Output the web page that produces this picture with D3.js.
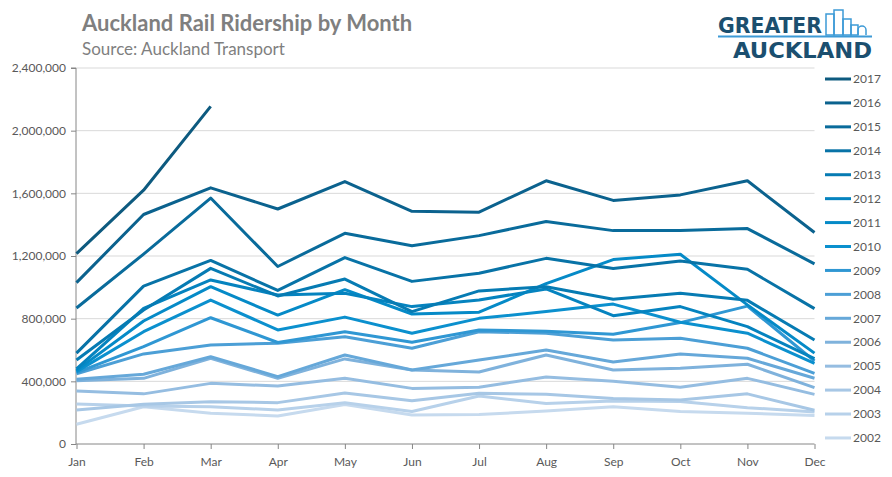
<!DOCTYPE html>
<html>
<head>
<meta charset="utf-8">
<script src="https://cdn.jsdelivr.net/npm/d3@7"></script>
<style>
  body { margin: 0; background: #fff; }
  svg { display: block; }
</style>
</head>
<body>
<div id="chart"></div>
<script>
// chart data
const months = ["Jan", "Feb", "Mar", "Apr", "May", "Jun", "Jul", "Aug", "Sep", "Oct", "Nov", "Dec"];
const years = [2017, 2016, 2015, 2014, 2013, 2012, 2011, 2010, 2009, 2008, 2007, 2006, 2005, 2004, 2003, 2002];
const yTicks = [0, 400000, 800000, 1200000, 1600000, 2000000, 2400000];

const r2017 = [1215000, 1620000, 2155000];
const r2016 = [1030000, 1465000, 1635000, 1500000, 1675000, 1485000, 1480000, 1680000, 1555000, 1590000, 1680000, 1350000];
const r2015 = [868000, 1212000, 1570000, 1133000, 1345000, 1265000, 1330000, 1420000, 1362000, 1362000, 1375000, 1150000];
const r2014 = [580000, 1008000, 1172000, 980000, 1190000, 1038000, 1090000, 1185000, 1120000, 1168000, 1115000, 864000];
const r2013 = [536000, 855000, 1121000, 945000, 1053000, 845000, 977000, 1004000, 924000, 962000, 917000, 664000];
const r2012 = [480000, 866000, 1047000, 951000, 962000, 877000, 919000, 990000, 819000, 877000, 749000, 545000];
const r2011 = [470000, 785000, 1004000, 823000, 985000, 830000, 841000, 1024000, 1177000, 1211000, 888000, 580000];
const r2010 = [462000, 717000, 919000, 728000, 810000, 707000, 802000, 845000, 893000, 777000, 707000, 515000];
const r2009 = [455000, 621000, 806000, 648000, 717000, 650000, 728000, 720000, 700000, 775000, 880000, 530000];
const r2008 = [448000, 575000, 632000, 643000, 685000, 611000, 717000, 707000, 664000, 675000, 611000, 451000];
const r2007 = [413000, 445000, 557000, 430000, 568000, 472000, 536000, 600000, 523000, 574000, 547000, 420000];
const r2006 = [404000, 419000, 547000, 419000, 543000, 472000, 460000, 568000, 472000, 483000, 509000, 360000];
const r2005 = [338000, 320000, 387000, 370000, 419000, 355000, 362000, 428000, 400000, 362000, 419000, 317000];
const r2004 = [217000, 253000, 270000, 264000, 326000, 276000, 324000, 318000, 290000, 281000, 320000, 215000];
const r2003 = [255000, 243000, 238000, 217000, 264000, 208000, 306000, 258000, 275000, 272000, 232000, 205000];
const r2002 = [126000, 238000, 196000, 179000, 252000, 185000, 188000, 210000, 238000, 208000, 196000, 182000];

const rides = [r2017, r2016, r2015, r2014, r2013, r2012, r2011, r2010, r2009, r2008, r2007, r2006, r2005, r2004, r2003, r2002];

// one colour per year, dark (new) to light (old)
const colours = ["#0d5a7f", "#0b628e", "#096b9b", "#0873a7", "#067bb3", "#0583bf", "#058ac7", "#0b90ce",
                 "#2f97d3", "#4c9fd6", "#66a8d9", "#7fb2dc", "#95bde1", "#a7c7e5", "#b7d1ea", "#c6daee"];

const W = 892, H = 477;
const plot = { left: 76, right: 814.5, top: 68, bottom: 444 };

const svg = d3.select("#chart").append("svg")
    .attr("width", W)
    .attr("height", H)
    .style("font-family", "Lato, 'Open Sans', sans-serif");

const x = d3.scalePoint()
    .domain(months)
    .range([plot.left + 0.5, plot.right]);

const y = d3.scaleLinear()
    .domain([0, 2400000])
    .range([plot.bottom, plot.top]);

// gridlines
svg.append("g")
    .selectAll("line")
    .data(yTicks.slice(1))
    .enter()
    .append("line")
    .attr("x1", plot.left)
    .attr("x2", plot.right)
    .attr("y1", d => y(d))
    .attr("y2", d => y(d))
    .attr("stroke", "#d9d9d9")
    .attr("stroke-width", 1);

// y axis
const yAxis = svg.append("g")
    .attr("transform", `translate(${plot.left},0)`)
    .call(d3.axisLeft(y).tickValues(yTicks).tickFormat(d3.format(",")).tickSize(5).tickPadding(5));

// x axis
const xAxis = svg.append("g")
    .attr("transform", `translate(0,${plot.bottom})`)
    .call(d3.axisBottom(x).tickSize(5).tickPadding(8));

[yAxis, xAxis].forEach(a => {
    a.select(".domain").attr("stroke", "#868686");
    a.selectAll(".tick line").attr("stroke", "#868686");
    a.selectAll("text").attr("fill", "#595959").style("font-size", "12px").style("font-family", "Lato, sans-serif");
});
yAxis.select(".domain").attr("d", `M-5,${plot.top}H0V${plot.bottom}`);
xAxis.select(".domain").attr("d", `M${plot.left},0H${plot.right}`);

// lines, oldest first so newer years sit on top
const line = d3.line()
    .x((d, i) => x(months[i]))
    .y(d => y(d));

const order = d3.range(years.length).reverse();

svg.append("g")
    .selectAll("path")
    .data(order)
    .enter()
    .append("path")
    .attr("d", i => line(rides[i]))
    .attr("fill", "none")
    .attr("stroke", i => colours[i])
    .attr("stroke-width", 3)
    .attr("stroke-linejoin", "round");

// legend
const legend = svg.append("g")
    .selectAll("g")
    .data(years)
    .enter()
    .append("g")
    .attr("transform", (d, i) => `translate(825,${79 + i * 23.93})`);

legend.append("line")
    .attr("x1", 0)
    .attr("x2", 26)
    .attr("stroke", (d, i) => colours[i])
    .attr("stroke-width", 3);

legend.append("text")
    .attr("x", 28)
    .attr("dy", "0.35em")
    .attr("fill", "#595959")
    .style("font-size", "12px")
    .text(d => d);

// titles
svg.append("text")
    .attr("x", 82)
    .attr("y", 31)
    .attr("fill", "#7f7f7f")
    .style("font-size", "22px")
    .style("font-weight", "bold")
    .text("Auckland Rail Ridership by Month");

svg.append("text")
    .attr("x", 82)
    .attr("y", 55)
    .attr("fill", "#7f7f7f")
    .style("font-size", "17px")
    .text("Source: Auckland Transport");

// logo
const logo = svg.append("g");
const navy = "#1b4f6f", sky = "#3d9ad6";

logo.append("text")
    .attr("x", 718)
    .attr("y", 33)
    .attr("textLength", 104)
    .attr("lengthAdjust", "spacingAndGlyphs")
    .attr("fill", navy)
    .style("font-family", "'DejaVu Sans Condensed', 'Liberation Sans Narrow', sans-serif")
    .style("font-weight", "bold")
    .style("font-size", "21px")
    .text("GREATER");

logo.append("text")
    .attr("x", 733)
    .attr("y", 58)
    .attr("textLength", 139)
    .attr("lengthAdjust", "spacingAndGlyphs")
    .attr("fill", navy)
    .style("font-family", "'DejaVu Sans Condensed', 'Liberation Sans Narrow', sans-serif")
    .style("font-weight", "bold")
    .style("font-size", "21px")
    .text("AUCKLAND");

logo.append("line")
    .attr("x1", 718).attr("x2", 872)
    .attr("y1", 36.5).attr("y2", 36.5)
    .attr("stroke", sky).attr("stroke-width", 2);

[[826, 14, 8, 21], [834, 10, 9, 25], [843, 19, 8, 16], [851, 25, 7, 10]].forEach(b => {
    logo.append("rect")
        .attr("x", b[0]).attr("y", b[1])
        .attr("width", b[2]).attr("height", b[3])
        .attr("fill", "none")
        .attr("stroke", sky)
        .attr("stroke-width", 1.5);
});
logo.append("path")
    .attr("d", "M858,35 V30 A4,4 0 0 1 866,30 V35")
    .attr("fill", "none")
    .attr("stroke", sky)
    .attr("stroke-width", 1.5);
</script>
</body>
</html>
